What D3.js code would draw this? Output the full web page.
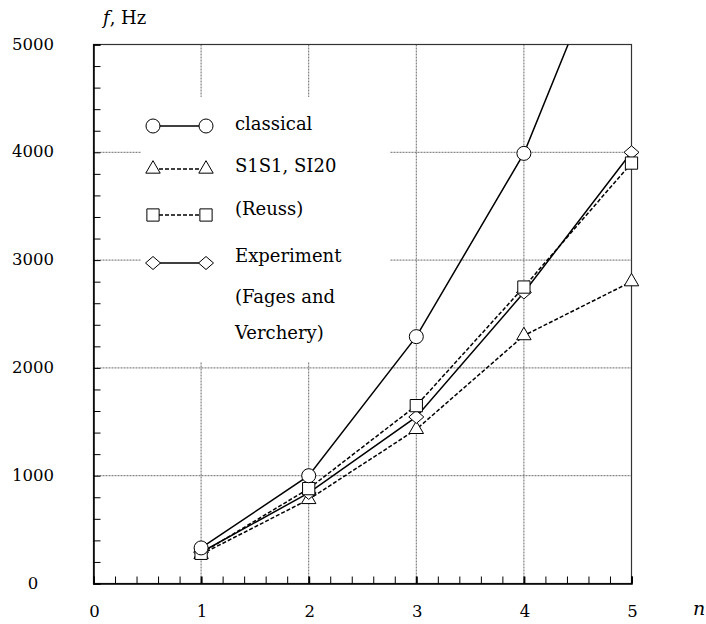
<!DOCTYPE html>
<html><head><meta charset="utf-8">
<script src="https://cdn.jsdelivr.net/npm/d3@7"></script>
<style>body{margin:0;background:#fff}</style>
</head><body><svg id="c" width="706" height="624"></svg>
<script>
const nVals = [1, 2, 3, 4, 5];
const classical = [330, 1000, 2290, 3990, 6450];
const s1s1 = [270, 780, 1430, 2300, 2800];
const reuss = [280, 880, 1650, 2750, 3900];
const experiment = [290, 840, 1545, 2700, 4000];
const yTicks = [0, 1000, 2000, 3000, 4000, 5000];
const xTicks = [0, 1, 2, 3, 4, 5];
const legendLabels = ["classical", "S1S1, SI20", "(Reuss)", "Experiment", "(Fages and", "Verchery)"];

const FONT = "DejaVu Serif";
const svg = d3.select("#c");
const x = d3.scaleLinear().domain([0, 5]).range([93.5, 631.5]);
const y = d3.scaleLinear().domain([0, 5000]).range([583.5, 44.5]);

// grid
const grid = svg.append("g").attr("stroke", "#444").attr("stroke-width", 0.8).attr("stroke-dasharray", "2,1");
grid.selectAll("line.h").data([1000, 2000, 3000, 4000]).enter().append("line")
  .attr("x1", x(0)).attr("x2", x(5)).attr("y1", d => y(d)).attr("y2", d => y(d));
grid.selectAll("line.v").data([1, 2, 3, 4]).enter().append("line")
  .attr("y1", y(0)).attr("y2", y(5000)).attr("x1", d => x(d)).attr("x2", d => x(d));
svg.append("rect").attr("x", 141).attr("y", 97).attr("width", 249).attr("height", 265).attr("fill", "#fff");

svg.append("rect").attr("x", x(0)).attr("y", y(5000)).attr("width", x(5) - x(0)).attr("height", y(0) - y(5000))
  .attr("fill", "none").attr("stroke", "#333").attr("stroke-width", 1.2);

const yAxis = d3.axisLeft(y).tickValues(d3.range(0, 5001, 200)).tickSize(-7).tickFormat("");
svg.append("g").attr("transform", `translate(${x(0)},0)`).call(yAxis)
  .call(g => g.select(".domain").attr("stroke", "#000").attr("stroke-width", 1.5))
  .call(g => g.selectAll(".tick line").attr("stroke", "#000").attr("stroke-width", 1));
const xAxis = d3.axisBottom(x).tickValues(d3.range(0, 5.001, 0.2)).tickSize(-7).tickFormat("");
svg.append("g").attr("transform", `translate(0,${y(0)})`).call(xAxis)
  .call(g => g.select(".domain").attr("stroke", "#000").attr("stroke-width", 1.5))
  .call(g => g.selectAll(".tick line").attr("stroke", "#000").attr("stroke-width", (d) => Math.abs(d - Math.round(d)) < 1e-6 ? 2 : 1));

svg.append("g").selectAll("text").data(yTicks).enter().append("text")
  .attr("font-family", FONT)
  .attr("x", 33).attr("y", d => y(d) + 5).attr("text-anchor", "middle").attr("font-size", 16.5).text(d => d);
svg.append("g").selectAll("text").data(xTicks).enter().append("text")
  .attr("font-family", FONT)
  .attr("x", d => x(d) + 1).attr("y", 617).attr("text-anchor", "middle").attr("font-size", 16.5).text(d => d);
svg.append("text").attr("font-family", FONT).attr("x", 699).attr("y", 615).attr("text-anchor", "middle").attr("font-size", 19).attr("font-style", "italic").text("n");
const ft = svg.append("text").attr("font-family", FONT).attr("x", 103).attr("y", 24).attr("font-size", 18);
ft.append("tspan").attr("font-style", "italic").text("f");
ft.append("tspan").text(", Hz");

const diamond = { draw(ctx, size) { const w = 7.5, h = 6.5; ctx.moveTo(0, -h); ctx.lineTo(w, 0); ctx.lineTo(0, h); ctx.lineTo(-w, 0); ctx.closePath(); } };
const series = [
  { vals: classical, dash: null, sym: d3.symbolCircle, size: 154 },
  { vals: s1s1, dash: "4,2", sym: d3.symbolTriangle, size: 90 },
  { vals: reuss, dash: "4,2", sym: d3.symbolSquare, size: 150 },
  { vals: experiment, dash: null, sym: diamond, size: 100 }
];
svg.append("clipPath").attr("id", "clip").append("rect")
  .attr("x", x(0)).attr("y", y(5000)).attr("width", x(5) - x(0) + 20).attr("height", y(0) - y(5000) + 20);
const line = d3.line().x((d, i) => x(nVals[i])).y(d => y(d));
const lines = svg.append("g").attr("clip-path", "url(#clip)");
series.forEach(s => {
  lines.append("path").attr("d", line(s.vals)).attr("fill", "none").attr("stroke", "#000")
    .attr("stroke-width", 1.5).attr("stroke-dasharray", s.dash);
});
const marks = svg.append("g");
[1, 3, 2, 0].forEach(k => {
  const s = series[k];
  marks.selectAll(null).data(s.vals.filter(v => v <= 5000)).enter().append("path")
    .attr("d", d3.symbol().type(s.sym).size(s.size))
    .attr("transform", (d, i) => `translate(${x(nVals[i])},${y(d)})`)
    .attr("fill", "#fff").attr("stroke", "#000").attr("stroke-width", 1);
});

const lgRows = [126, 169, 215, 263];
const lg = svg.append("g");
series.forEach((s, i) => {
  lg.append("line").attr("x1", 153).attr("x2", 206).attr("y1", lgRows[i]).attr("y2", lgRows[i])
    .attr("stroke", "#000").attr("stroke-width", 1.5).attr("stroke-dasharray", s.dash);
  [153, 206].forEach(px => lg.append("path").attr("d", d3.symbol().type(s.sym).size(s.size)())
    .attr("transform", `translate(${px},${lgRows[i]})`).attr("fill", "#fff").attr("stroke", "#000").attr("stroke-width", 1));
});
const textRows = [130, 172, 215, 262, 303, 339];
lg.selectAll("text").data(legendLabels).enter().append("text")
  .attr("font-family", FONT)
  .attr("x", 235).attr("y", (d, i) => textRows[i]).attr("font-size", 18).text(d => d);
</script></body></html>
